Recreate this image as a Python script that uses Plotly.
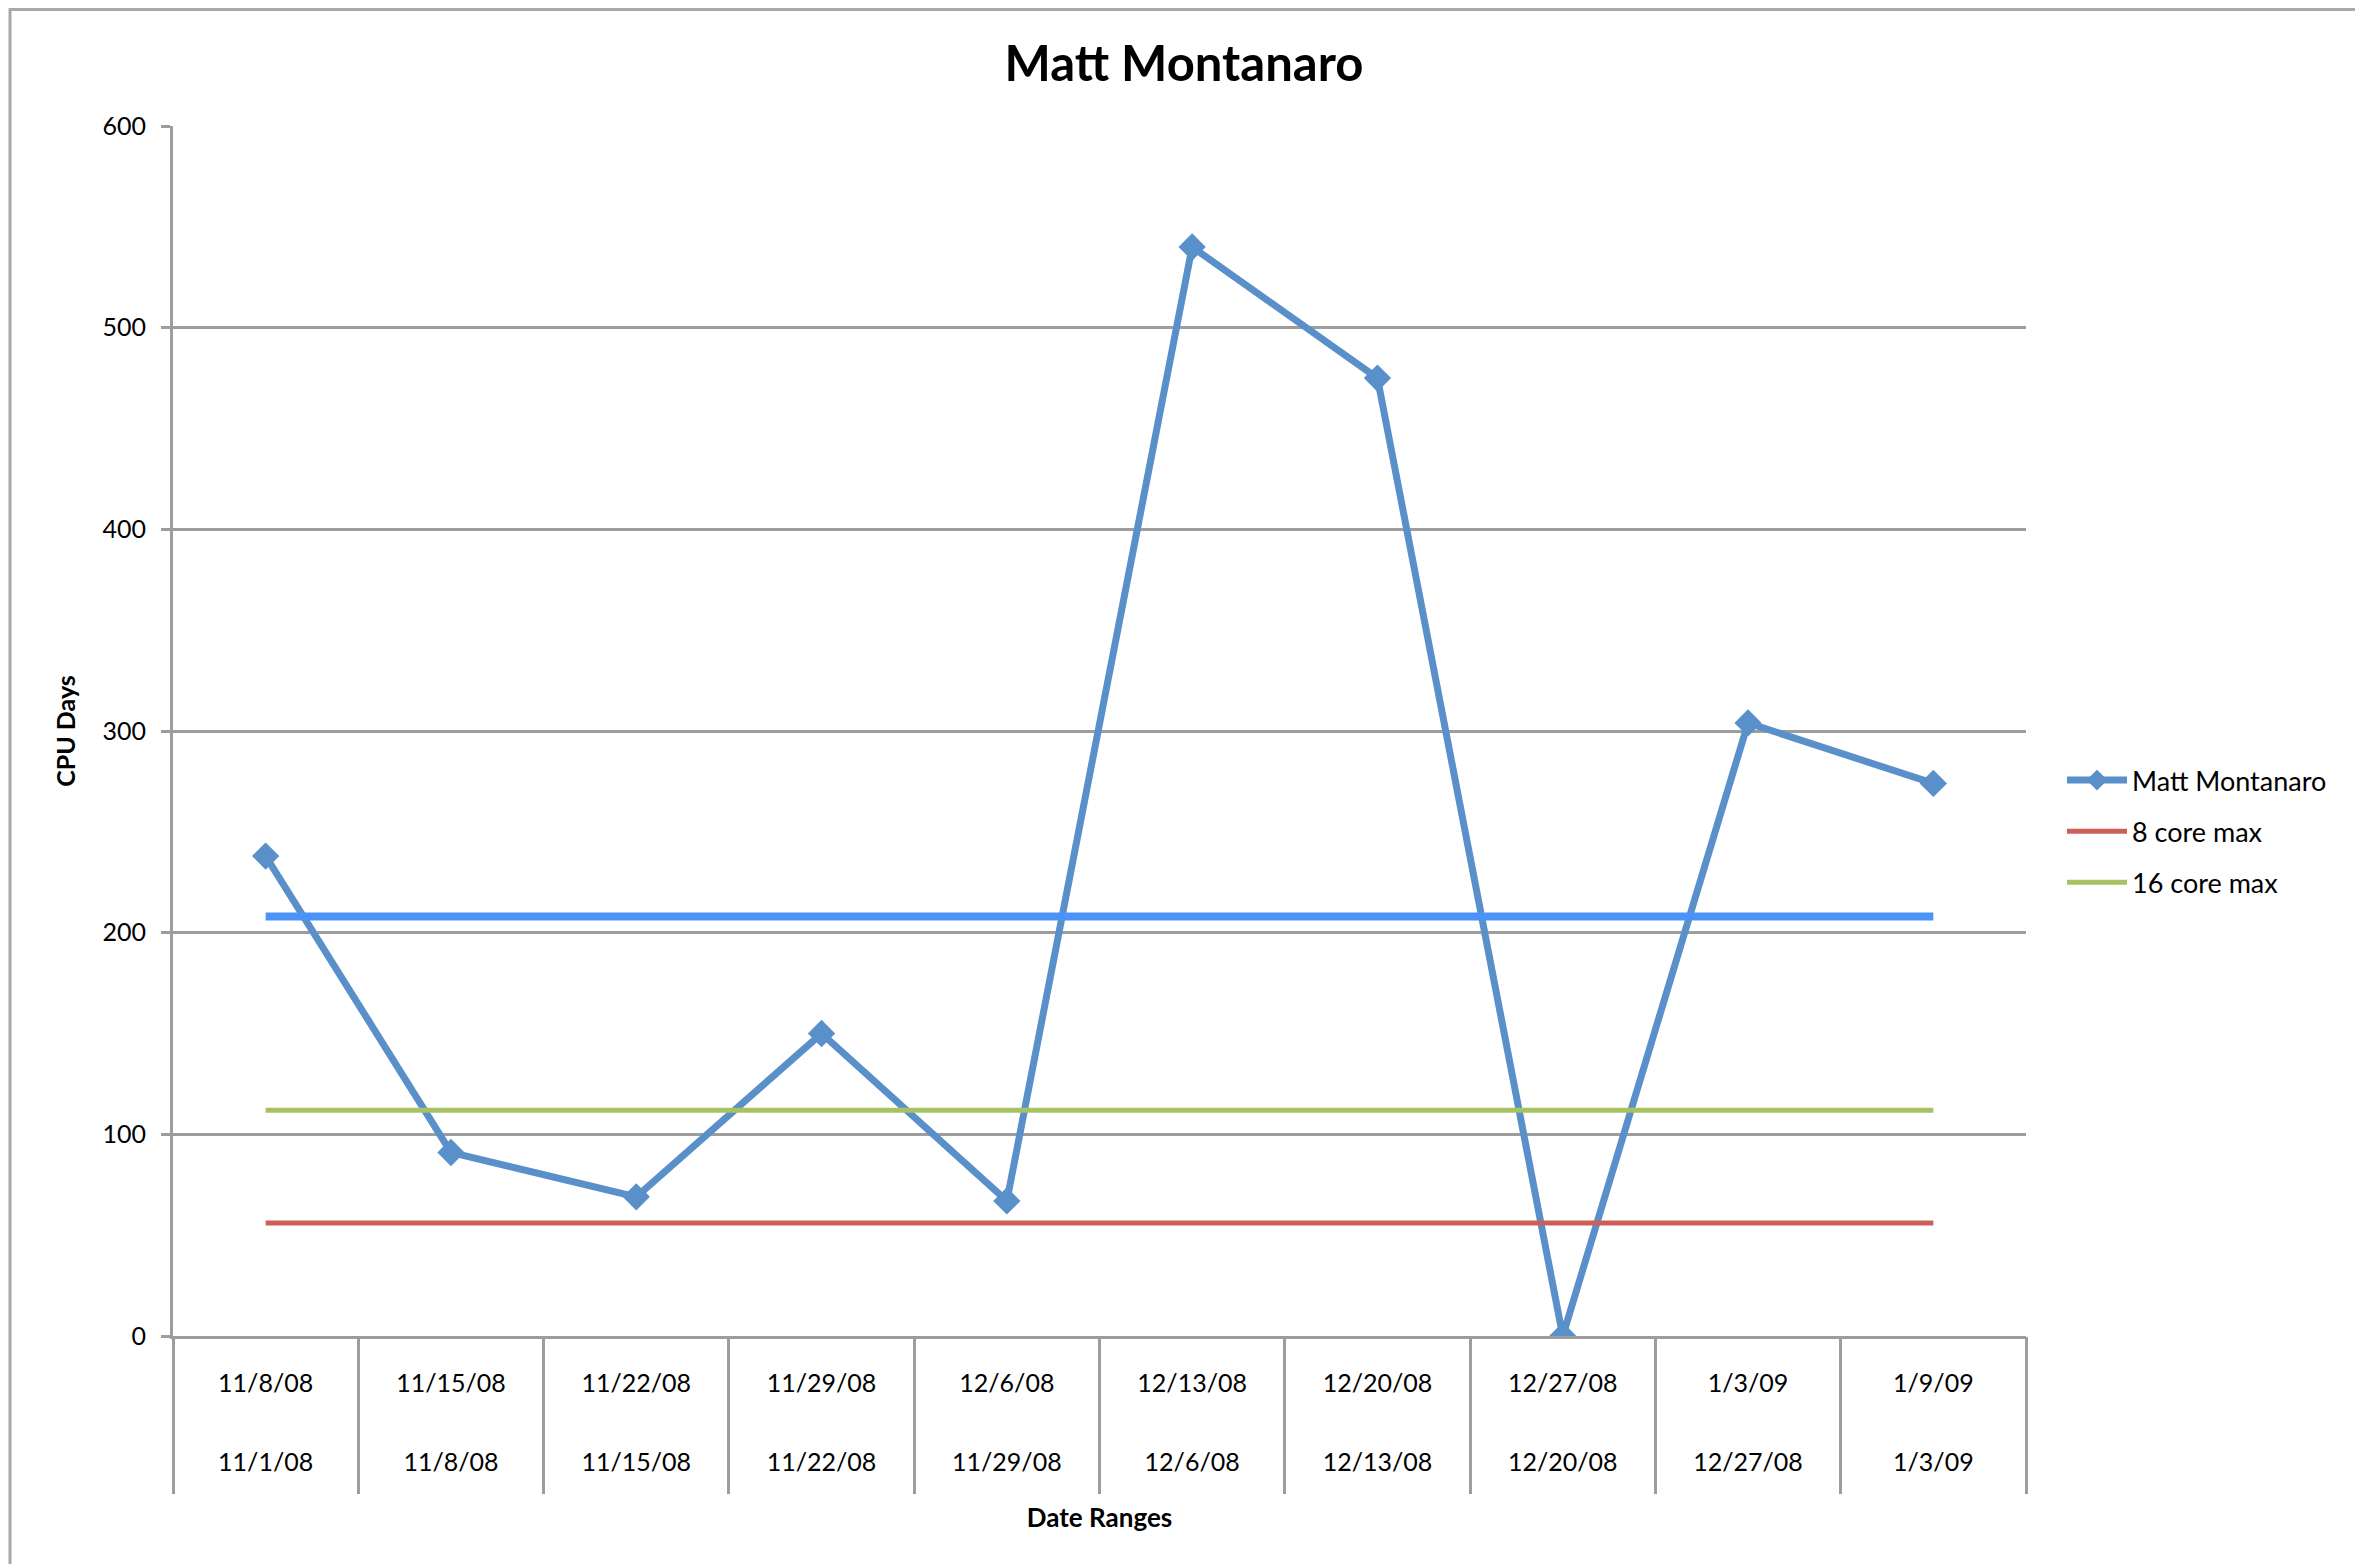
import plotly.graph_objects as go

# ---- data ----
week_end = ["11/8/08", "11/15/08", "11/22/08", "11/29/08", "12/6/08",
            "12/13/08", "12/20/08", "12/27/08", "1/3/09", "1/9/09"]
week_start = ["11/1/08", "11/8/08", "11/15/08", "11/22/08", "11/29/08",
              "12/6/08", "12/13/08", "12/20/08", "12/27/08", "1/3/09"]
cpu_days = [238, 91, 69, 150, 67, 540, 475, 0, 304, 274]
core8_max = [56, 56, 56, 56, 56, 56, 56, 56, 56, 56]
core16_max = [112, 112, 112, 112, 112, 112, 112, 112, 112, 112]
reference_line = [208, 208, 208, 208, 208, 208, 208, 208, 208, 208]
y_ticks = [0, 100, 200, 300, 400, 500, 600]

FONT = "Lato"
GRID = "#9d9d9d"
# page body has an 8px margin, so figure coords = page coords - 8
W, H = 2355, 1556
L, R, T, B = 165, 337, 118, 228
PW, PH = W - L - R, H - T - B

n = len(week_end)
idx = list(range(n))
boundaries = [i - 0.5 for i in range(n + 1)]

fig = go.Figure()
fig.add_trace(go.Scatter(
    x=week_end, y=cpu_days, name="Matt Montanaro", mode="lines+markers",
    line=dict(color="#5a90c9", width=7),
    marker=dict(symbol="diamond", size=21, color="#5a90c9"),
    legendgroup="a"))
fig.add_trace(go.Scatter(
    x=week_end, y=core8_max, name="8 core max", mode="lines",
    line=dict(color="#cd5f58", width=5), legendgroup="b"))
fig.add_trace(go.Scatter(
    x=week_end, y=core16_max, name="16 core max", mode="lines",
    line=dict(color="#a6c263", width=5), legendgroup="c"))
fig.add_trace(go.Scatter(
    x=week_end, y=reference_line, name="", mode="lines",
    line=dict(color="#4b93f6", width=8), showlegend=False))

# invisible helper traces so the overlay axes (dividers, second label row) are drawn
for ax in ("x2", "x3"):
    fig.add_trace(go.Scatter(x=idx, y=reference_line, xaxis=ax, mode="markers",
                             marker=dict(opacity=0), showlegend=False,
                             hoverinfo="skip"))

fig.update_layout(
    width=W, height=H,
    margin=dict(l=L, r=R, t=T, b=B, autoexpand=False),
    paper_bgcolor="white", plot_bgcolor="white",
    font=dict(family=FONT, color="black", size=25),
    title=dict(text="<b>Matt Montanaro</b>", x=1176 / W, xref="container",
               xanchor="center", y=1 - 56 / H, yanchor="middle",
               font=dict(family=FONT, size=49, color="black")),
    showlegend=True,
    legend=dict(x=(2054 - L) / PW, xanchor="left", y=(T + PH - 748) / PH,
                yanchor="top", font=dict(family=FONT, size=27, color="black"),
                tracegroupgap=13, bgcolor="rgba(0,0,0,0)", itemwidth=60),
    xaxis=dict(type="category", categoryorder="array", categoryarray=week_end,
               range=[-0.5, n - 0.5], showgrid=False, zeroline=False,
               showline=True, linecolor=GRID, linewidth=3,
               ticks="", showticklabels=True, ticklabelstandoff=23,
               tickfont=dict(family=FONT, size=25, color="black")),
    xaxis2=dict(overlaying="x", anchor="y", side="bottom", range=[-0.5, n - 0.5],
                tickmode="array", tickvals=boundaries, ticktext=[""] * (n + 1),
                ticks="outside", ticklen=157, tickwidth=3, tickcolor=GRID,
                showgrid=False, zeroline=False, showline=False),
    xaxis3=dict(overlaying="x", anchor="y", side="bottom", range=[-0.5, n - 0.5],
                tickmode="array", tickvals=idx, ticktext=week_start,
                ticks="", showgrid=False, zeroline=False, showline=False,
                ticklabelstandoff=109,
                tickfont=dict(family=FONT, size=25, color="black"),
                title=dict(text="<b>Date Ranges</b>", standoff=33,
                           font=dict(family=FONT, size=26, color="black"))),
    yaxis=dict(range=[0, 600], tickmode="array", tickvals=y_ticks,
               showgrid=True, gridcolor=GRID, gridwidth=3,
               zeroline=False, showline=True, linecolor=GRID, linewidth=3,
               ticks="outside", ticklen=9, tickwidth=3, tickcolor=GRID,
               ticklabelstandoff=10,
               tickfont=dict(family=FONT, size=25, color="black"),
               title=dict(text="<b>CPU Days</b>", standoff=20,
                          font=dict(family=FONT, size=25, color="black"))),
    shapes=[dict(type="rect", xref="paper", yref="paper",
                 x0=(2 - L) / PW, x1=(2349 - L) / PW,
                 y0=-(H + 50 - T - PH) / PH, y1=(T + PH - 1.5) / PH,
                 line=dict(color="#a8a8a8", width=3), fillcolor="rgba(0,0,0,0)",
                 layer="below")],
)

fig.write_html("out.html")
